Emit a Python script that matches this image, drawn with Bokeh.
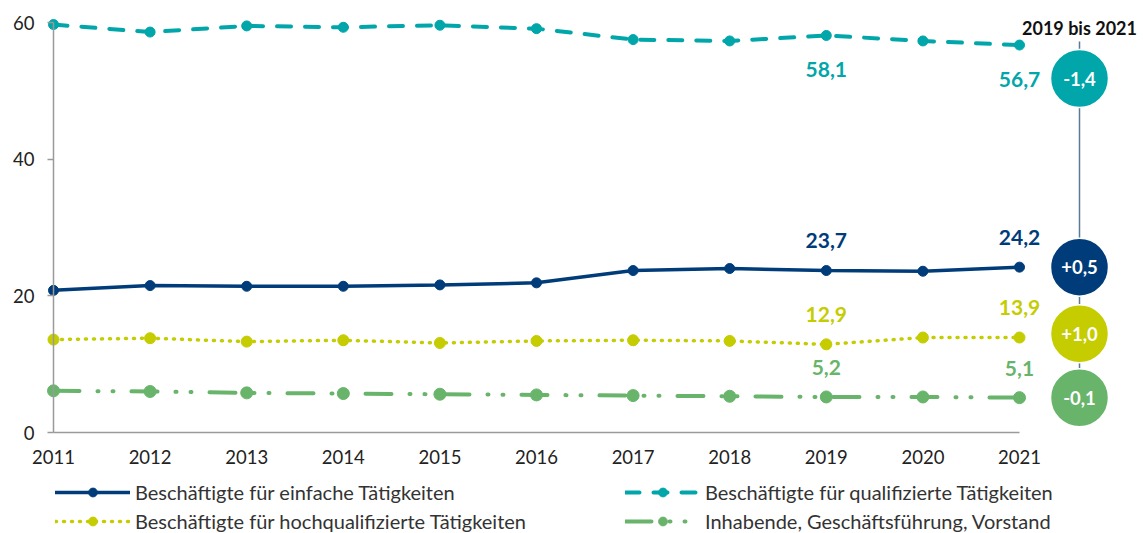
from bokeh.plotting import figure
from bokeh.models import ColumnDataSource, Legend, LegendItem, Range1d, FixedTicker
from bokeh.core.properties import value
from bokeh.embed import file_html
from bokeh.resources import INLINE

# ---------------- data ----------------
years = [2011, 2012, 2013, 2014, 2015, 2016, 2017, 2018, 2019, 2020, 2021]
einfache = [20.8, 21.5, 21.4, 21.4, 21.6, 21.9, 23.7, 24.0, 23.7, 23.6, 24.2]
qualifizierte = [59.7, 58.6, 59.5, 59.3, 59.6, 59.1, 57.5, 57.3, 58.1, 57.3, 56.7]
hochqualifizierte = [13.6, 13.8, 13.3, 13.5, 13.1, 13.4, 13.5, 13.4, 12.9, 13.9, 13.9]
inhabende = [6.1, 6.0, 5.8, 5.7, 5.6, 5.5, 5.4, 5.3, 5.2, 5.2, 5.1]

names = [
    "Beschäftigte für einfache Tätigkeiten",
    "Beschäftigte für qualifizierte Tätigkeiten",
    "Beschäftigte für hochqualifizierte Tätigkeiten",
    "Inhabende, Geschäftsführung, Vorstand",
]
compare_years = [2019, 2021]
header_text = "2019 bis 2021"
y_ticks = [0, 20, 40, 60]

# ---------------- styling ----------------
FONT = "Lato"
C_NAVY = "#003C7A"
C_TEAL = "#00A6A9"
C_YELLOW = "#C5CC00"
C_GREEN = "#69B46B"
AXIS_GREY = "#9a9a9a"

series = [
    dict(key="einfache", vals=einfache, color=C_NAVY, width=3.5, dash="solid", size=10, off=-30),
    dict(key="qualifizierte", vals=qualifizierte, color=C_TEAL, width=4, dash="14 14", size=10, off=34),
    dict(key="hochqualifizierte", vals=hochqualifizierte, color=C_YELLOW, width=3.5, dash="1 7", size=11, off=-30),
    dict(key="inhabende", vals=inhabende, color=C_GREEN, width=4, dash="26 18 1 14 1 18", size=12, off=-29),
]

W, H = 1143, 533
PX_PER_YEAR = 96.6
PX_PER_UNIT = 6.8333
X0_PX, Y0_PX = 53, 432          # pixel position of (2011, 0)
X_START = years[0] - X0_PX / PX_PER_YEAR
X_END = years[0] + (W - X0_PX) / PX_PER_YEAR
Y_START = -(H - Y0_PX) / PX_PER_UNIT
Y_END = Y0_PX / PX_PER_UNIT

def y_of_px(py):
    return (Y0_PX - py) / PX_PER_UNIT

def x_of_px(px):
    return years[0] + (px - X0_PX) / PX_PER_YEAR

p = figure(width=W, height=H, output_backend="svg", toolbar_location=None,
           x_range=Range1d(X_START, X_END), y_range=Range1d(Y_START, Y_END),
           min_border_left=0, min_border_right=0, min_border_top=0, min_border_bottom=0)
p.outline_line_color = None
p.xgrid.visible = False
p.ygrid.visible = False
p.background_fill_color = "white"
p.border_fill_color = "white"

# axes
xa = p.xaxis[0]
xa.fixed_location = 0
xa.bounds = (years[0], years[-1])
xa.ticker = FixedTicker(ticks=years)
xa.major_tick_out = 0
xa.major_tick_in = 0
xa.minor_tick_out = 0
xa.minor_tick_in = 0
xa.axis_line_color = AXIS_GREY
xa.axis_line_width = 1.5
xa.major_label_text_font = FONT
xa.major_label_text_font_size = "18.5px"
xa.major_label_text_color = "#222222"
xa.major_label_standoff = 17

ya = p.yaxis[0]
ya.fixed_location = years[0]
ya.bounds = (y_ticks[0], y_ticks[-1])
ya.ticker = FixedTicker(ticks=y_ticks)
ya.major_tick_out = 6
ya.major_tick_in = 0
ya.minor_tick_out = 0
ya.minor_tick_in = 0
ya.axis_line_color = AXIS_GREY
ya.axis_line_width = 1.5
ya.major_tick_line_color = AXIS_GREY
ya.major_tick_line_width = 1.5
ya.major_label_text_font = FONT
ya.major_label_text_font_size = "18.5px"
ya.major_label_text_color = "#222222"
ya.major_label_standoff = 13

src = ColumnDataSource(dict(year=years, einfache=einfache, qualifizierte=qualifizierte,
                            hochqualifizierte=hochqualifizierte, inhabende=inhabende))

renderers = {}
for s in series:
    lr = p.line("year", s["key"], source=src, line_color=s["color"], line_width=s["width"],
                line_dash=s["dash"], line_cap="round")
    pr = p.scatter("year", s["key"], source=src, marker="circle", size=s["size"],
                   fill_color=s["color"], line_color=s["color"])
    renderers[s["key"]] = (lr, pr)

def de(v, sign=False):
    t = f"{v:+.1f}" if sign else f"{v:.1f}"
    return t.replace(".", ",")

# value labels at comparison years
lx, ly, lt, lc, lo = [], [], [], [], []
for s in series:
    for yr in compare_years:
        i = years.index(yr)
        lx.append(yr); ly.append(s["vals"][i]); lt.append(de(s["vals"][i]))
        lc.append(s["color"]); lo.append(s["off"])
p.text(x="x", y="y", text="t", source=ColumnDataSource(dict(x=lx, y=ly, t=lt, c=lc, o=lo)),
       text_color="c", y_offset="o", text_font=value(FONT), text_font_style="bold",
       text_font_size="21px", text_align="center", text_baseline="middle")

# change bubbles
bubble_x = x_of_px(1079)
i0, i1 = years.index(compare_years[0]), years.index(compare_years[1])
finals = [s["vals"][i1] for s in series]
diffs = [s["vals"][i1] - s["vals"][i0] for s in series]
gap = 64 / PX_PER_UNIT
cap_top = y_of_px(78)
order = sorted(range(len(series)), key=lambda k: finals[k])
bub_y = [0.0] * len(series)
prev = -1e9
for k in order:
    bub_y[k] = max(finals[k], prev + gap)
    prev = bub_y[k]
for k in order:
    bub_y[k] = min(bub_y[k], cap_top)

p.segment(x0=[bubble_x], y0=[y_of_px(41)], x1=[bubble_x], y1=[min(bub_y)],
          line_color="#5b7a95", line_width=1.5)
p.scatter(x=[bubble_x] * len(series), y=bub_y, marker="circle", size=58,
          fill_color=[s["color"] for s in series], line_color="white", line_width=1.5)
p.text(x=[bubble_x] * len(series), y=bub_y, text=[de(d, True) for d in diffs],
       text_color="white", text_font=value(FONT), text_font_style="bold",
       text_font_size="18.5px", text_align="center", text_baseline="middle")

p.text(x=[bubble_x], y=[y_of_px(27)], text=[header_text], text_color="#111111",
       text_font=value(FONT), text_font_style="bold", text_font_size="18px",
       text_align="center", text_baseline="middle")

# legends (two columns)
def make_legend(idx, loc):
    its = [LegendItem(label=names[j], renderers=list(renderers[series[j]["key"]])) for j in idx]
    return Legend(items=its, orientation="vertical", location=loc,
                  glyph_width=75, glyph_height=22, label_height=22, label_standoff=5,
                  spacing=5, padding=0, margin=0,
                  border_line_color=None, background_fill_alpha=0,
                  label_text_font=FONT, label_text_font_size="20px", label_text_color="#333333")

p.add_layout(make_legend([0, 2], (55, 0)), "center")
p.add_layout(make_legend([1, 3], (625, 0)), "center")

open("out.html", "w").write(file_html(p, INLINE))
